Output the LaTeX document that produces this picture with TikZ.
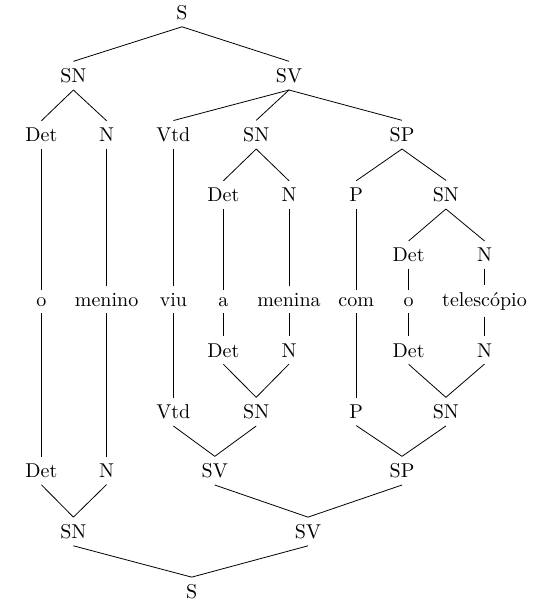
\documentclass[tikz,border=0pt]{standalone}
\begin{document}
\begin{tikzpicture}[x=0.5pt,y=-0.5pt,
  lbl/.style={anchor=base},
  edge/.style={draw,line width=0.4pt}]
\useasboundingbox (0,0) rectangle (540,609);
% top tree
\node[lbl] (S1) at (182,19.3) {S};
\node[lbl] (SN1) at (73.4,82.5) {SN};
\node[lbl] (SV1) at (289,82.5) {SV};
\node[lbl] (Det1) at (41.4,141.5) {Det};
\node[lbl] (N1) at (106.6,141.5) {N};
\node[lbl] (Vtd1) at (173.4,141.5) {Vtd};
\node[lbl] (SN2) at (256.2,141.5) {SN};
\node[lbl] (SP1) at (402,141.5) {SP};
\node[lbl] (Det2) at (223.4,201.5) {Det};
\node[lbl] (N2) at (289,201.5) {N};
\node[lbl] (P1) at (356.2,201.5) {P};
\node[lbl] (SN3) at (445.9,201.5) {SN};
\node[lbl] (Det3) at (408.6,261.7) {Det};
\node[lbl] (N3) at (484.5,261.7) {N};
% words
\node[lbl] (w1) at (41.4,306) {o};
\node[lbl] (w2) at (106.6,306) {menino};
\node[lbl] (w3) at (173.4,306) {viu};
\node[lbl] (w4) at (223.4,306) {a};
\node[lbl] (w5) at (289,306) {menina};
\node[lbl] (w6) at (356.2,306) {com};
\node[lbl] (w7) at (408.6,306) {o};
\node[lbl] (w8) at (484.5,306) {telescópio};
% bottom tree
\node[lbl] (bDet2) at (223.4,357) {Det};
\node[lbl] (bN2) at (289,357) {N};
\node[lbl] (bDet3) at (408.6,357) {Det};
\node[lbl] (bN3) at (484.5,357) {N};
\node[lbl] (bVtd) at (173.4,418.5) {Vtd};
\node[lbl] (bSN2) at (256.2,418.5) {SN};
\node[lbl] (bP) at (356.2,418.5) {P};
\node[lbl] (bSN3) at (445.9,418.5) {SN};
\node[lbl] (bDet1) at (41.4,477.5) {Det};
\node[lbl] (bN1) at (106.6,477.5) {N};
\node[lbl] (bSV2) at (214.8,477.5) {SV};
\node[lbl] (bSP) at (402,477.5) {SP};
\node[lbl] (bSN1) at (73.4,538.3) {SN};
\node[lbl] (bSV1) at (308,538.3) {SV};
\node[lbl] (bS) at (191.7,598.3) {S};
% top edges
\foreach \p/\c in {S1/SN1,S1/SV1,SN1/Det1,SN1/N1,SV1/Vtd1,SV1/SN2,SV1/SP1,
  SN2/Det2,SN2/N2,SP1/P1,SP1/SN3,SN3/Det3,SN3/N3,
  Det1/w1,N1/w2,Vtd1/w3,Det2/w4,N2/w5,P1/w6,Det3/w7,N3/w8}
  \path[edge] (\p.south) -- (\c.north);
% bottom edges
\foreach \p/\c in {w1/bDet1,w2/bN1,w3/bVtd,w4/bDet2,w5/bN2,w6/bP,w7/bDet3,w8/bN3,
  bDet2/bSN2,bN2/bSN2,bDet3/bSN3,bN3/bSN3,bVtd/bSV2,bSN2/bSV2,bP/bSP,bSN3/bSP,
  bDet1/bSN1,bN1/bSN1,bSV2/bSV1,bSP/bSV1,bSN1/bS,bSV1/bS}
  \path[edge] (\p.south) -- (\c.north);
\end{tikzpicture}
\end{document}
